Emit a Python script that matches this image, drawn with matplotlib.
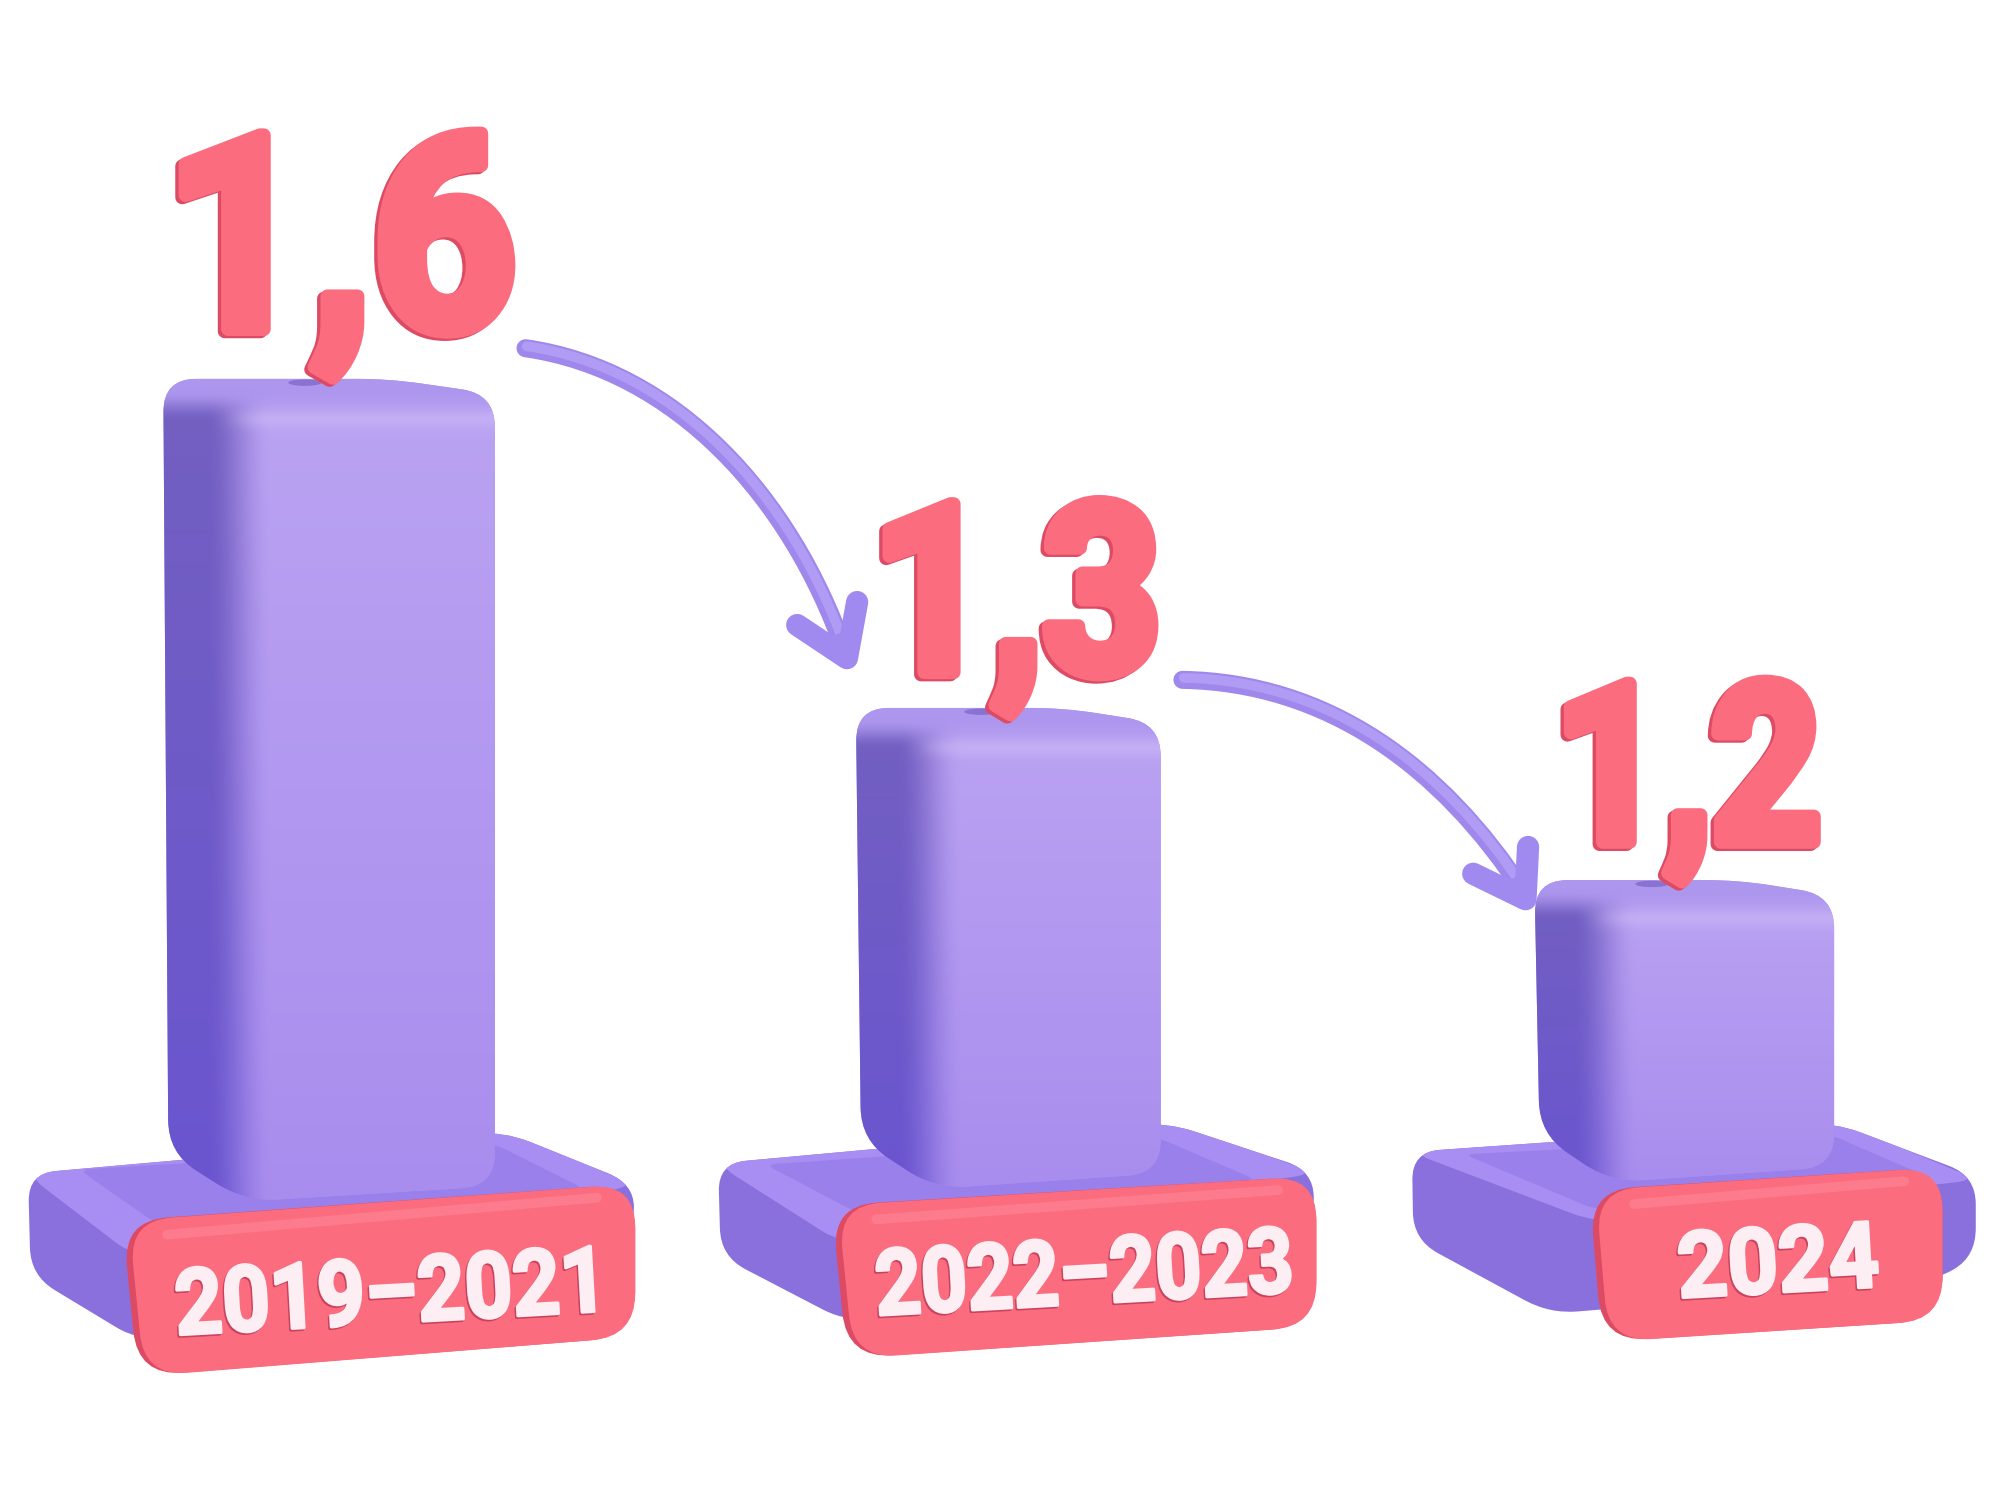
"""
Three purple bars on plinths with coral value numbers and period tags,
drawn in the pixel coordinates of the picture (1568 wide, 1176 high).
"""
import numpy as np
import matplotlib.pyplot as plt
import matplotlib.patheffects as pe
from matplotlib.colors import to_rgb
from matplotlib.patches import Ellipse, PathPatch
from matplotlib.path import Path
from matplotlib.transforms import Affine2D

values = ['1,6', '1,3', '1,2']
periods = ['2019–2021', '2022–2023', '2024']
bar_heights = [645, 377, 237]  # drawn height read off the picture, not to scale with the values

# layout of each group, left to right
bar_left = [128, 671, 1203]
bar_right = [388, 910, 1438]
bar_bottom = [942, 932, 927]
side_width = [64, 62, 60]
value_x = [267, 797, 1323]
value_base = [258, 527, 660]
value_size = [98, 85, 80]
value_squeeze = [0.93, 0.88, 0.86]
period_xy = [(307, 1017), (850, 1002), (1394, 993)]
period_squeeze = [0.905, 0.875, 0.96]

base_outline = [
    [(22, 920), (395, 887), (497, 928), (497, 965), (110, 1052), (24, 1000)],
    [(563, 912), (915, 880), (1030, 918), (1030, 960), (665, 1037), (565, 985)],
    [(1107, 903), (1438, 880), (1549, 922), (1549, 985), (1515, 1005), (1215, 1030), (1108, 972)],
]
base_top = [
    [(20, 920), (395, 885), (499, 930), (105, 985)],
    [(561, 912), (915, 878), (1032, 920), (660, 975)],
    [(1105, 903), (1438, 878), (1551, 925), (1250, 958)],
]
base_recess = [
    [(62, 917), (388, 897), (458, 932), (135, 968)],
    [(600, 913), (908, 892), (985, 925), (680, 955)],
    [(1148, 905), (1436, 890), (1510, 922), (1250, 948)],
]
tag_outline = [
    [(96, 957), (498, 928), (498, 1048), (108, 1079)],
    [(652, 945), (1032, 922), (1032, 1040), (664, 1065)],
    [(1246, 933), (1523, 915), (1523, 1035), (1256, 1052)],
]

arrow_curves = [
    [(412, 273), (530, 290), (620, 390), (662, 510)],
    [(927, 533), (1040, 535), (1130, 600), (1195, 700)],
]
arrow_heads = [
    [(625, 490), (664, 516), (672, 472)],
    [(1155, 685), (1196, 705), (1198, 664)],
]

PURPLE = '#a58cf0'
CORAL = '#fb6c7f'
CORAL_DARK = '#dd4a63'
TAG_TEXT = '#fdeef3'

plt.rcParams['font.family'] = ['Roboto', 'DejaVu Sans']

fig = plt.figure(figsize=(10, 7.5), dpi=200)
ax = fig.add_axes([0, 0, 1, 1])
ax.axis('off')


class Squeezed(pe.AbstractPathEffect):
    """Rounded, stroked glyphs narrowed about their centre: the picture's digits are condensed."""

    def __init__(self, sx, lw, color, offset=(0, 0)):
        super().__init__(offset)
        self.sx, self.lw, self.color = sx, lw, color

    def draw_path(self, renderer, gc, tpath, affine, rgbFace=None):
        box = tpath.get_extents()
        cx = (box.x0 + box.x1) / 2
        narrow = Affine2D().translate(-cx, 0).scale(self.sx, 1).translate(cx, 0)
        gc0 = renderer.new_gc()
        gc0.copy_properties(gc)
        gc0.set_linewidth(self.lw)
        gc0.set_foreground(self.color)
        gc0.set_joinstyle('round')
        renderer.draw_path(gc0, tpath.transformed(narrow), affine + self._offset_transform(renderer),
                           to_rgb(self.color))
        gc0.restore()


def rounded(points, r):
    """Closed path through the points with each corner cut by a quadratic curve."""
    pts = [np.array(p, float) for p in points]
    verts, codes = [], []
    n = len(pts)
    for i in range(n):
        prev_pt, cur, next_pt = pts[i - 1], pts[i], pts[(i + 1) % n]
        a = cur + (prev_pt - cur) * min(r / np.linalg.norm(prev_pt - cur), 0.5)
        b = cur + (next_pt - cur) * min(r / np.linalg.norm(next_pt - cur), 0.5)
        verts += [a, cur, b]
        codes += [Path.MOVETO if i == 0 else Path.LINETO, Path.CURVE3, Path.CURVE3]
    verts.append(verts[0])
    codes.append(Path.CLOSEPOLY)
    return Path(verts, codes)


def smooth(t):
    t = np.clip(t, 0, 1)
    return t * t * (3 - 2 * t)


def mix(c0, c1, t):
    return np.array(to_rgb(c0)) * (1 - t[..., None]) + np.array(to_rgb(c1)) * t[..., None]


def draw_bar(left, right, top, bottom, side):
    edge = left + side
    outline = [(left, top), (left + 0.68 * (right - left), top), (right, top + 12),
               (right, bottom - 12), (edge, bottom), (left + 4, bottom - 38)]
    patch = PathPatch(rounded(outline, 26), facecolor=PURPLE, edgecolor='none', zorder=3)
    ax.add_patch(patch)

    xs, ys = np.meshgrid(np.linspace(left, right, 300), np.linspace(top, bottom, 400))
    v = (ys - top) / (bottom - top)
    side_col = mix('#7360c0', '#6a55d0', v)
    front_col = mix('#bba3f2', '#a98dee', v)
    across = smooth((xs - (edge - 30)) / 52)
    rgb = side_col * (1 - across[..., None]) + front_col * across[..., None]
    # top face, with a light ridge where it meets the front
    ridge = np.exp(-((ys - top - 30) / 8) ** 2) * across
    rgb = rgb * (1 - 0.5 * ridge[..., None]) + np.array(to_rgb('#cdbcf8')) * 0.5 * ridge[..., None]
    cap = 1 - smooth((ys - top - 8) / 24)
    rgb = rgb * (1 - cap[..., None]) + np.array(to_rgb('#ad97ee')) * cap[..., None]
    im = ax.imshow(rgb, extent=[left, right, bottom, top], aspect='auto', zorder=3.1,
                   interpolation='bilinear')
    im.set_clip_path(patch)


for i in range(3):
    plinth = PathPatch(rounded(base_outline[i], 22), facecolor='#8a70dc', edgecolor='none', zorder=1)
    ax.add_patch(plinth)
    for shape, radius, colour, z in [(base_top[i], 18, '#a88ef2', 1.2), (base_recess[i], 8, '#9a80ea', 1.4)]:
        part = PathPatch(rounded(shape, radius), facecolor=colour, edgecolor='none', zorder=z)
        ax.add_patch(part)
        part.set_clip_path(plinth)

    top = bar_bottom[i] - bar_heights[i]
    draw_bar(bar_left[i], bar_right[i], top, bar_bottom[i], side_width[i])

    # dimple under the comma
    ax.add_patch(Ellipse((value_x[i] - 28, top + 3), 26, 5, facecolor='#8a72d2', edgecolor='none', zorder=3.3))

    # tag: dark silhouette, then the face nudged to the right
    ax.add_patch(PathPatch(rounded(tag_outline[i], 36), facecolor=CORAL_DARK, edgecolor='none', zorder=4))
    face = [(x + 5 if j in (0, 3) else x, y) for j, (x, y) in enumerate(tag_outline[i])]
    ax.add_patch(PathPatch(rounded(face, 34), facecolor=CORAL, edgecolor='none', zorder=4.1))
    (x0, y0), (x1, y1) = face[0], face[1]
    ax.plot([x0 + 30, x1 - 30], [y0 + 11, y1 + 11], color='#fd7f90', lw=3.5, solid_capstyle='round',
            alpha=0.8, zorder=4.2)

    ax.text(period_xy[i][0], period_xy[i][1], periods[i], ha='center', va='center', color=TAG_TEXT,
            fontsize=33, fontweight='bold', rotation=3.2, rotation_mode='anchor', zorder=5,
            path_effects=[Squeezed(period_squeeze[i], 1.2, '#c9415c', offset=(-0.5, -0.6)),
                          Squeezed(period_squeeze[i], 1.2, TAG_TEXT)])

    ax.text(value_x[i], value_base[i], values[i], ha='center', va='baseline', color=CORAL,
            fontsize=value_size[i], fontweight='bold', zorder=6,
            path_effects=[Squeezed(value_squeeze[i], 5, CORAL_DARK, offset=(-1.2, -0.8)),
                          Squeezed(value_squeeze[i], 5, CORAL)])

for curve, head in zip(arrow_curves, arrow_heads):
    codes = [Path.MOVETO, Path.CURVE4, Path.CURVE4, Path.CURVE4]
    ax.add_patch(PathPatch(Path(curve, codes), facecolor='none', edgecolor='#9f87ec', lw=6.5,
                           capstyle='round', zorder=2))
    lifted = [(x + 1, y - 1.5) for x, y in curve]
    ax.add_patch(PathPatch(Path(lifted, codes), facecolor='none', edgecolor='#b09bf5', lw=3.5,
                           capstyle='round', zorder=2.1))
    ax.plot(*zip(*head), color='#a08af0', lw=8, solid_capstyle='round', solid_joinstyle='round', zorder=2.2)
    # the notch of the head is partly filled in
    tip = np.array(head[1], float)
    ax.fill(*zip(tip + (np.array(head[0]) - tip) * 0.5, tip, tip + (np.array(head[2]) - tip) * 0.5),
            color='#a08af0', zorder=2.2)

ax.set_xlim(0, 1568)
ax.set_ylim(1176, 0)

plt.savefig('out.png', dpi=200, facecolor='white')
